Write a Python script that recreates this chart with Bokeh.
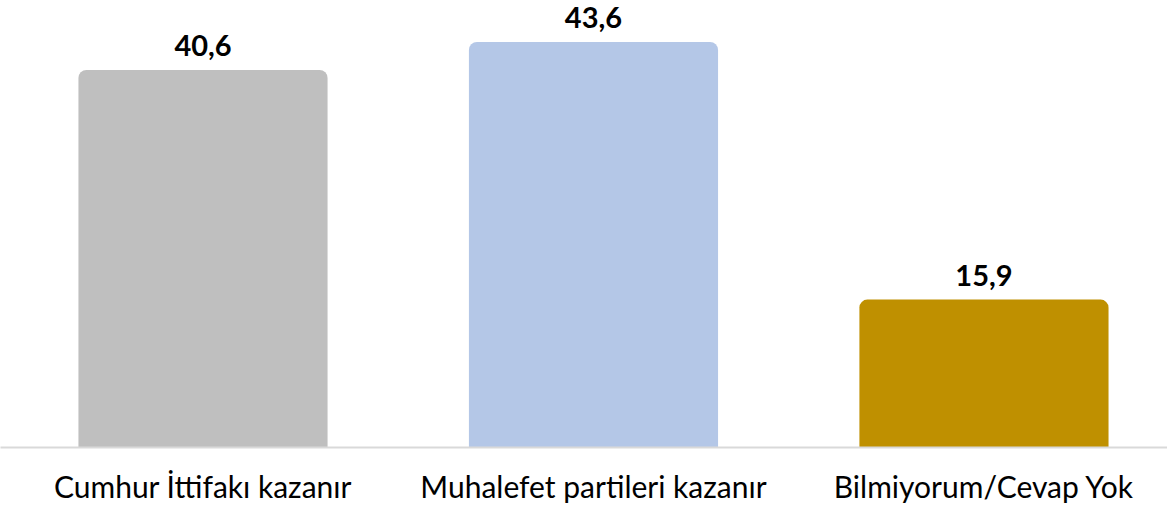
from bokeh.plotting import figure
from bokeh.models import Range1d, FixedTicker, ColumnDataSource
from bokeh.core.properties import value
from bokeh.embed import file_html
from bokeh.resources import INLINE

categories = ["Cumhur İttifakı kazanır", "Muhalefet partileri kazanır", "Bilmiyorum/Cevap Yok"]
values = [40.6, 43.6, 15.9]
labels = ["40,6", "43,6", "15,9"]
colors = ["#bfbfbf", "#b4c7e7", "#bf9000"]

xs = list(range(len(categories)))
src = ColumnDataSource(dict(x=xs, top=values, label=labels, color=colors))

p = figure(width=1167, height=507, output_backend="svg", toolbar_location=None,
           x_range=Range1d(-0.5186, 2.47), y_range=Range1d(0, 48.06),
           min_border_left=0, min_border_right=0, min_border_top=0, min_border_bottom=60)

p.vbar(x="x", top="top", bottom=0, width=0.638, fill_color="color", line_color=None,
       border_radius=(8, 8, 0, 0), source=src)

p.text(x="x", y="top", text="label", source=src, text_align="center", text_baseline="alphabetic",
       y_offset=-24, text_font=value("Lato"), text_font_style="bold", text_font_size="29px",
       text_color="#000000")

p.yaxis.visible = False
p.xgrid.visible = False
p.ygrid.visible = False
p.outline_line_color = None
p.xaxis.ticker = FixedTicker(ticks=xs)
p.xaxis.major_label_overrides = {i: c for i, c in enumerate(categories)}
p.xaxis.major_tick_line_color = None
p.xaxis.minor_tick_line_color = None
p.xaxis.major_tick_out = 0
p.xaxis.major_tick_in = 0
p.xaxis.minor_tick_out = 0
p.xaxis.minor_tick_in = 0
p.xaxis.axis_line_color = "#d9d9d9"
p.xaxis.axis_line_width = 2
p.xaxis.major_label_text_font = "Lato"
p.xaxis.major_label_text_font_size = "30px"
p.xaxis.major_label_text_color = "#000000"
p.xaxis.major_label_standoff = 20

open("out.html", "w").write(file_html(p, INLINE))
